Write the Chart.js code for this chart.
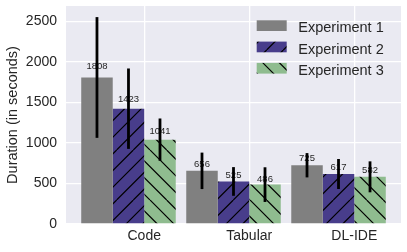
<!DOCTYPE html>
<html><head><meta charset="utf-8">
<script src="https://cdn.jsdelivr.net/npm/chart.js@4/dist/chart.umd.min.js"></script>
<style>html,body{margin:0;padding:0;background:#fff}canvas{display:block}</style>
</head><body>
<canvas id="c" width="407" height="252"></canvas>
<script>
const categories = ['Code', 'Tabular', 'DL-IDE'];
const seriesNames = ['Experiment 1', 'Experiment 2', 'Experiment 3'];
const exp1 = [1808, 656, 725];
const exp2 = [1423, 525, 617];
const exp3 = [1041, 486, 582];
const err1 = [745, 225, 150];
const err2 = [496, 177, 185];
const err3 = [261, 214, 191];
const yTicks = [0, 500, 1000, 1500, 2000, 2500];
const yMax = 2690;

const FONT = "'Liberation Sans', Arial, sans-serif";
const TEXT = '#262626';
const canvas = document.getElementById('c');
const ctx0 = canvas.getContext('2d');

function hatch(bg, dir) {
  const s = 50, n = 3, step = s / n;
  const c = document.createElement('canvas'); c.width = s; c.height = s;
  const g = c.getContext('2d');
  g.fillStyle = bg; g.fillRect(0, 0, s, s);
  g.strokeStyle = '#000'; g.lineWidth = 1.2;
  g.beginPath();
  for (let k = -n - 1; k <= n + 1; k++) {
    const o = k * step;
    if (dir === '/') { g.moveTo(o, s); g.lineTo(o + s, 0); }
    else { g.moveTo(o, 0); g.lineTo(o + s, s); }
  }
  g.stroke();
  return ctx0.createPattern(c, 'repeat');
}

const values = [exp1, exp2, exp3];
const errors = [err1, err2, err3];
const fills = ['#808080', hatch('#483D8B', '/'), hatch('#8FBC8F', '\\')];

const bgPlugin = {
  id: 'bg',
  beforeDraw(chart) {
    const a = chart.chartArea, c = chart.ctx;
    c.save(); c.fillStyle = '#EAEAF2';
    c.fillRect(a.left, a.top, a.right - a.left, a.bottom - a.top);
    c.restore();
  }
};

const annPlugin = {
  id: 'ann',
  afterDatasetsDraw(chart) {
    const c = chart.ctx, ys = chart.scales.y;
    c.save();
    chart.data.datasets.forEach((ds, d) => {
      const meta = chart.getDatasetMeta(d);
      meta.data.forEach((el, i) => {
        const v = ds.data[i].y;
        c.fillStyle = TEXT; c.font = '9.5px ' + FONT;
        c.textAlign = 'center'; c.textBaseline = 'alphabetic';
        c.fillText(String(v), el.x, ys.getPixelForValue(v * 1.05) - 1);
      });
    });
    chart.data.datasets.forEach((ds, d) => {
      const meta = chart.getDatasetMeta(d);
      meta.data.forEach((el, i) => {
        const v = ds.data[i].y, e = ds.errors[i];
        c.strokeStyle = '#000'; c.lineWidth = 2.8; c.lineCap = 'butt';
        c.beginPath();
        c.moveTo(el.x, ys.getPixelForValue(v - e));
        c.lineTo(el.x, ys.getPixelForValue(v + e));
        c.stroke();
      });
    });
    c.restore();
  }
};

const legendPlugin = {
  id: 'customLegend',
  afterDraw(chart) {
    const c = chart.ctx, a = chart.chartArea;
    const x0 = a.right - 144.3, y0 = a.top + 14.3;
    c.save();
    chart.data.datasets.forEach((ds, d) => {
      const y = y0 + d * 21.3;
      c.fillStyle = ds.backgroundColor;
      c.fillRect(x0, y, 30, 10.7);
      c.fillStyle = TEXT; c.font = '14.5px ' + FONT;
      c.textAlign = 'left'; c.textBaseline = 'alphabetic';
      c.fillText(ds.label, x0 + 41.6, y + 5.35 + 6.6);
    });
    c.restore();
  }
};

new Chart(canvas, {
  type: 'bar',
  data: {
    datasets: values.map((v, d) => ({
      label: seriesNames[d],
      data: v.map((y, i) => ({ x: i, y })),
      errors: errors[d],
      backgroundColor: fills[d],
      borderWidth: 0,
      categoryPercentage: 0.9,
      barPercentage: 1.0
    }))
  },
  options: {
    responsive: false,
    animation: false,
    devicePixelRatio: 1,
    layout: { padding: { top: 6, right: 6, left: 0, bottom: 0 } },
    plugins: { legend: { display: false }, tooltip: { enabled: false } },
    scales: {
      x: {
        type: 'linear', min: -0.595, max: 2.595, offset: false,
        afterBuildTicks: s => { s.ticks = categories.map((c, i) => ({ value: i + 0.15 })); },
        ticks: { callback: (v, i) => categories[i], font: { family: FONT, size: 14 }, color: TEXT, padding: 4, autoSkip: false, maxRotation: 0 },
        grid: { color: '#ffffff', lineWidth: 1.3, drawTicks: false, offset: false },
        border: { display: false },
        afterFit: s => { s.height = 28; s.paddingLeft = 0; s.paddingRight = 0; s.paddingTop = 0; s.paddingBottom = 0; }
      },
      y: {
        min: 0, max: yMax,
        afterBuildTicks: s => { s.ticks = yTicks.map(v => ({ value: v })); },
        ticks: { callback: v => String(v), font: { family: FONT, size: 14 }, color: TEXT, padding: 9 },
        grid: { color: '#ffffff', lineWidth: 1.3, drawTicks: false },
        border: { display: false },
        title: { display: true, text: 'Duration (in seconds)', font: { family: FONT, size: 14.5, lineHeight: 1.2 }, color: TEXT, padding: { top: 4, bottom: 0 } },
        afterFit: s => { s.width = 66; s.paddingTop = 0; s.paddingBottom = 0; s.paddingLeft = 0; s.paddingRight = 0; }
      }
    }
  },
  plugins: [bgPlugin, annPlugin, legendPlugin]
});
</script>
</body></html>
